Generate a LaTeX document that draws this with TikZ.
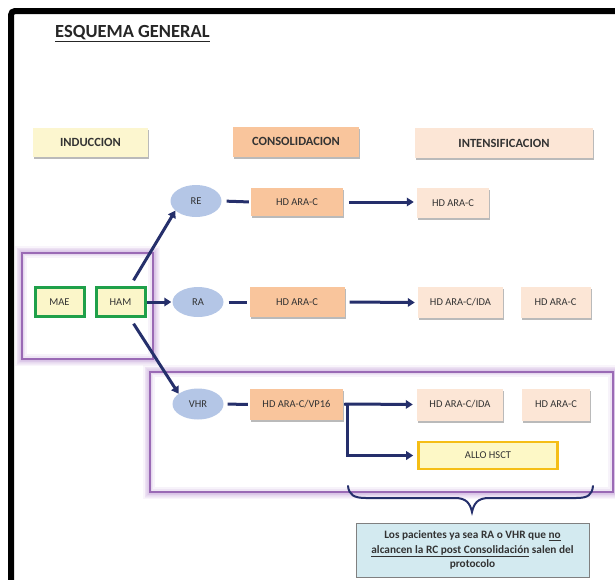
\documentclass[tikz,border=0pt]{standalone}
\usepackage{fontspec}
\setmainfont{Carlito}
\usetikzlibrary{arrows.meta,shadows,shapes.geometric}
\definecolor{navy}{HTML}{252F6B}
\definecolor{txtgray}{HTML}{333333}
\definecolor{induc}{HTML}{FCF6CF}
\definecolor{consol}{HTML}{F9C59C}
\definecolor{intens}{HTML}{FCE6D6}
\definecolor{ellblue}{HTML}{B4C6E6}
\definecolor{greenb}{HTML}{1FA04A}
\definecolor{maefill}{HTML}{FBF6C9}
\definecolor{goldb}{HTML}{F5BE16}
\definecolor{allofill}{HTML}{FDF8C6}
\definecolor{notefill}{HTML}{D3EAF0}
\definecolor{purp}{HTML}{9A6AB5}
\definecolor{purpglow}{HTML}{CDB0DE}
\begin{document}
\begin{tikzpicture}[x=1pt,y=-1pt,
  shade box/.style={drop shadow={shadow xshift=1.2pt,shadow yshift=-2pt,fill=black!45,opacity=0.6}},
  hdr/.style={shade box,inner sep=0pt,font=\fontsize{12.5}{14}\selectfont\bfseries,text=txtgray},
  cbox/.style={shade box,inner sep=0pt,minimum height=29pt,font=\fontsize{10.5}{12}\selectfont,text=txtgray},
  ell/.style={ellipse,fill=ellblue,inner sep=0pt,minimum width=51pt,minimum height=32pt,font=\fontsize{10.5}{12}\selectfont,text=txtgray},
  greenbox/.style={draw=greenb,line width=3pt,fill=maefill,inner sep=0pt,minimum width=49pt,minimum height=29pt,font=\fontsize{10.5}{12}\selectfont,text=txtgray},
  arr/.style={draw=navy,line width=3pt,-{Triangle[length=7pt,width=8.5pt]}},
  link/.style={draw=navy,line width=3pt},
  glowframe/.style={draw=purp,line width=1.6pt,fill=white}
]
\useasboundingbox (0,0) rectangle (615,579);
\clip (0,0) rectangle (615,579);

% outer frame
\draw[line width=6pt,rounded corners=4pt] (11,620) -- (11,11) -- (640,11);

% title
\node[anchor=base west,inner sep=0pt,font=\fontsize{18.5}{20}\selectfont\bfseries,text=black!85] (title) at (55,37) {\underline{ESQUEMA GENERAL}};

% purple group frames with soft glow
\foreach \w/\o in {14pt/0.12,11pt/0.15,8pt/0.18,5pt/0.22} {
  \draw[purpglow,line width=\w,opacity=\o] (22,253) rectangle (153,359);
  \draw[purpglow,line width=\w,opacity=\o] (150,372) rectangle (613,492);
}
\fill[white] (22,253) rectangle (153,359);
\fill[white] (150,372) rectangle (613,492);
\foreach \w/\o in {10pt/0.15,6pt/0.2,3pt/0.25} {
  \draw[purpglow,line width=\w,opacity=\o] (22,253) rectangle (153,359);
  \draw[purpglow,line width=\w,opacity=\o] (150,372) rectangle (613,492);
}
\draw[purp,line width=1.6pt] (22,253) rectangle (153,359);
\draw[purp,line width=1.6pt] (150,372) rectangle (613,492);

% headers
\node[hdr,fill=induc,minimum width=115pt,minimum height=29pt] (induccion) at (90.5,142) {INDUCCION};
\node[hdr,fill=consol,minimum width=126pt,minimum height=30pt] (consolidacion) at (296,141.5) {CONSOLIDACION};
\node[hdr,fill=intens,minimum width=178pt,minimum height=30pt] (intensificacion) at (504,143) {INTENSIFICACION};

% row 1
\node[ell] (re) at (196,201) {RE};
\node[cbox,fill=consol,minimum width=92pt,minimum height=28pt] (c1) at (297,202) {HD ARA-C};
\node[cbox,fill=intens,minimum width=72pt,minimum height=30pt] (i1) at (453,203) {HD ARA-C};

% row 2
\node[greenbox] (mae) at (59.5,302) {MAE};
\node[greenbox] (ham) at (120.5,302) {HAM};
\node[ell,minimum height=30pt] (ra) at (198,302) {RA};
\node[cbox,fill=consol,minimum width=95pt,minimum height=30pt] (c2) at (297,302) {HD ARA-C};
\node[cbox,fill=intens,minimum width=85pt,minimum height=31pt] (i2a) at (460.5,302.5) {HD ARA-C/IDA};
\node[cbox,fill=intens,minimum width=70pt,minimum height=31pt] (i2b) at (555.5,302.5) {HD ARA-C};

% row 3
\node[ell,minimum height=31pt] (vhr) at (198,404) {VHR};
\node[cbox,fill=consol,minimum width=93pt,minimum height=31pt] (c3) at (296.5,404.5) {HD ARA-C/VP16};
\node[cbox,fill=intens,minimum width=86pt,minimum height=32pt] (i3a) at (460,404.5) {HD ARA-C/IDA};
\node[cbox,fill=intens,minimum width=68pt,minimum height=32pt] (i3b) at (556,404.5) {HD ARA-C};
\node[draw=goldb,line width=2.6pt,fill=allofill,inner sep=0pt,minimum width=139pt,minimum height=27pt,font=\fontsize{10.5}{12}\selectfont,text=txtgray] (allo) at (488,455.5) {ALLO HSCT};

% note
\node[draw=black!50,line width=0.9pt,fill=notefill,inner sep=0pt,minimum width=233pt,minimum height=54pt,align=center,
      font=\fontsize{11.3}{14.5}\selectfont\bfseries,text=txtgray,drop shadow={shadow xshift=1pt,shadow yshift=-1pt,fill=black!30,opacity=0.5}] (note) at (472.5,550)
  {Los pacientes ya sea RA o VHR que \underline{no}\\
   \underline{alcancen la RC post Consolidación} salen del\\
   protocolo};

% connectors
\draw[arr,shorten <=2pt] ([xshift=-14pt,yshift=4pt]ham.north east) -- (re.205);
\draw[arr,shorten <=0pt,shorten >=1pt] (ham.east) -- (ra.west);
\draw[arr,shorten <=2pt] ([xshift=-14pt,yshift=-4pt]ham.south east) -- (vhr.152);

\draw[link,shorten <=5pt,shorten >=2pt] (re.east) -- (c1.west);
\draw[link,shorten <=5pt,shorten >=2pt] (ra.east) -- (c2.west);
\draw[link,shorten <=4pt,shorten >=2pt] (vhr.east) -- (c3.west);

\draw[arr,shorten <=6pt,shorten >=3pt] (c1.east) -- (c1.east -| i1.west);
\draw[arr,shorten <=5pt,shorten >=3pt] (c2.east) -- (i2a.west);

\coordinate (elb) at (347,404);
\draw[link,shorten <=1pt] (c3.east) -- (elb);
\draw[arr,shorten >=4pt] (elb) -- (i3a.west);
\draw[arr,shorten >=4pt] (elb) |- (allo.west);

% brace
\draw[navy,line width=2pt,line cap=round] (348,486) .. controls (349,495) and (354,498) .. (366,498)
  -- (455,498) .. controls (466,498) and (470,503) .. (472,512)
  .. controls (474,503) and (478,498) .. (489,498)
  -- (576,498) .. controls (588,498) and (592,495) .. (593,486);
\end{tikzpicture}
\end{document}
